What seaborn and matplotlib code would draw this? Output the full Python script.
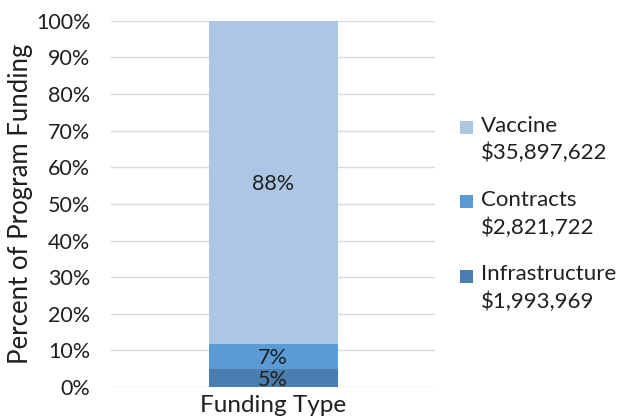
import matplotlib
matplotlib.use("Agg")
import matplotlib.pyplot as plt
import seaborn as sns
import pandas as pd
from matplotlib.patches import Patch, Rectangle
from matplotlib.legend_handler import HandlerPatch
from matplotlib.ticker import PercentFormatter

components = ["Infrastructure", "Contracts", "Vaccine"]
amounts = [1993969, 2821722, 35897622]
amount_labels = ["$1,993,969", "$2,821,722", "$35,897,622"]
colors = ["#4A7EB0", "#5B9BD5", "#ADC6E6"]
category = ["Funding Type"]

sns.set_theme(style="white")
plt.rcParams['font.family'] = ['Lato', 'DejaVu Sans']

total = sum(amounts)
shares = [a / total * 100 for a in amounts]
cum = pd.Series(shares).cumsum().tolist()
df = pd.DataFrame({"cat": category * 3, "component": components,
                   "share": shares, "cum": cum})

fig = plt.figure(figsize=(6.18, 4.17), dpi=100)
ax = fig.add_axes([0.180, 0.072, 0.524, 0.878])

for i in [2, 1, 0]:
    sub = df.iloc[[i]]
    sns.barplot(data=sub, x="cat", y="cum", color=colors[i], width=0.5,
                ax=ax, saturation=1, zorder=3, linewidth=0, edgecolor="none")

TXT = "#1F1F1F"
bottoms = [0] + cum[:-1]
for i in range(3):
    ax.text(0, bottoms[i] + shares[i] / 2, f"{round(shares[i])}%",
            ha="center", va="center_baseline", fontsize=15.5, color=TXT, zorder=4)

ax.set_ylim(0, 100)
ax.set_xlim(-0.628, 0.628)
ax.set_yticks(range(0, 101, 10))
ax.yaxis.set_major_formatter(PercentFormatter(decimals=0))
ax.tick_params(axis="y", labelsize=15.5, colors=TXT, length=0, pad=15)
ax.set_xticks([])
ax.set_xlabel("Funding Type", fontsize=17.5, color=TXT, labelpad=6)
ax.set_ylabel("Percent of Program Funding", fontsize=18.5, color=TXT, labelpad=2)
ax.grid(axis="y", color="#D9D9D9", linewidth=1, zorder=0)
for s in ax.spines.values():
    s.set_visible(False)


class TopSquare(HandlerPatch):
    def create_artists(self, legend, orig_handle, xdescent, ydescent,
                       width, height, fontsize, trans):
        sq = 0.58 * fontsize
        off = 0.06 * fontsize
        p = Rectangle((-xdescent, -ydescent + height - sq - off), sq, sq,
                      facecolor=orig_handle.get_facecolor(), edgecolor="none",
                      transform=trans)
        return [p]


handles = [Patch(facecolor=colors[i], edgecolor="none") for i in [2, 1, 0]]
labels = [f"{components[i]}\n{amount_labels[i]}" for i in [2, 1, 0]]
leg = fig.legend(handles, labels, loc="center left", bbox_to_anchor=(0.744, 0.487),
                 frameon=False, fontsize=16, handlelength=0.6, handleheight=2.55,
                 handletextpad=0.35, labelspacing=1.2, labelcolor=TXT,
                 borderpad=0, borderaxespad=0, alignment="left",
                 handler_map={Patch: TopSquare()})
for t in leg.get_texts():
    t.set_linespacing(1.45)

fig.savefig("out.png", dpi=100)
